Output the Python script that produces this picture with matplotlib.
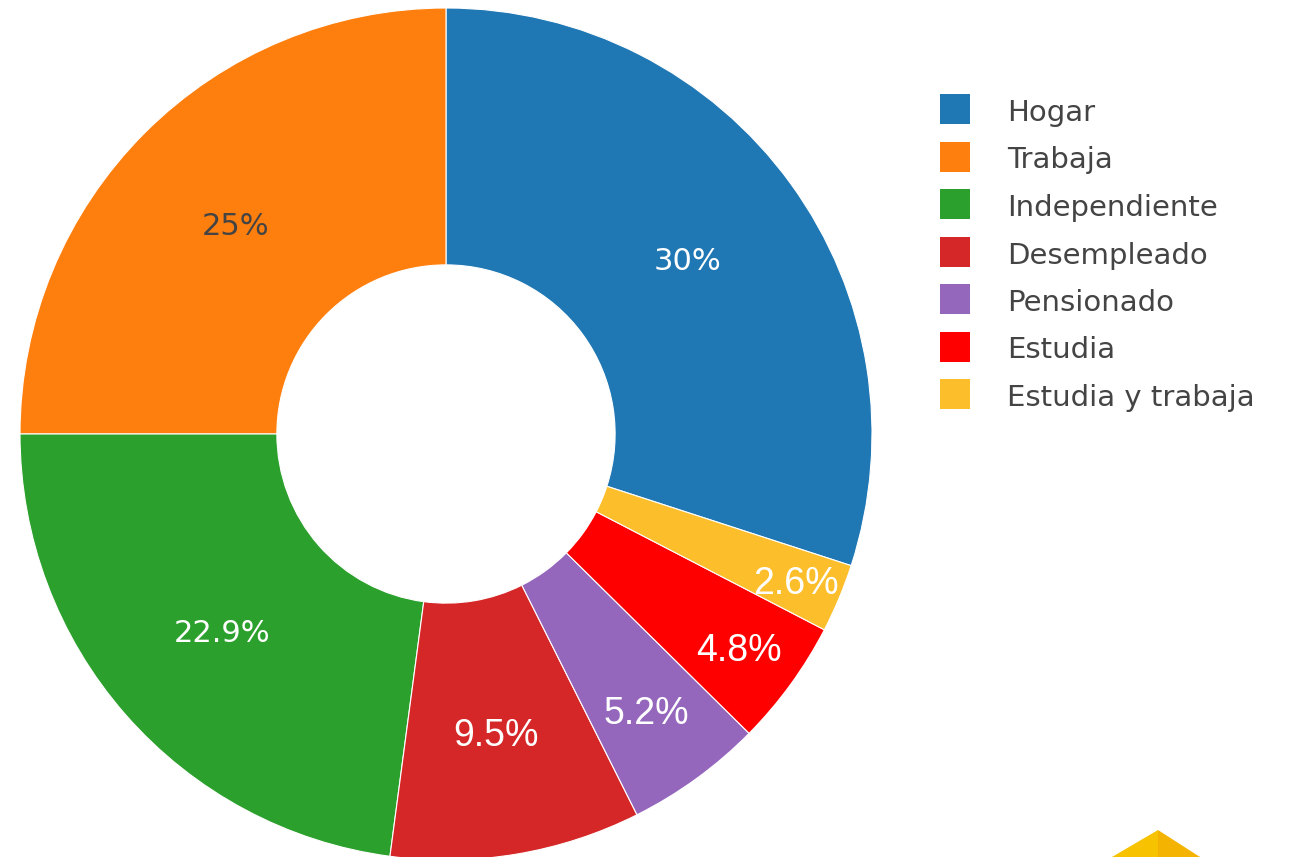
import matplotlib
matplotlib.use("Agg")
import matplotlib.pyplot as plt
from matplotlib.patches import Rectangle, Polygon
import numpy as np

labels = ["Hogar", "Trabaja", "Independiente", "Desempleado", "Pensionado", "Estudia", "Estudia y trabaja"]
values = [30, 25, 22.9, 9.5, 5.2, 4.8, 2.6]
pct_text = ["30%", "25%", "22.9%", "9.5%", "5.2%", "4.8%", "2.6%"]
colors = ["#1f77b4", "#ff7f0e", "#2ca02c", "#d62728", "#9467bd", "#ff0000", "#fdbe2b"]

W, H = 1291, 857
fig = plt.figure(figsize=(W / 100, H / 100), dpi=100)
fig.patch.set_facecolor("white")

cx, cy, R = 446, 434, 426
ax = fig.add_axes([(cx - R) / W, (H - cy - R) / H, 2 * R / W, 2 * R / H])
ax.axis("off")

wedges, texts = ax.pie(values, colors=colors, startangle=-18, counterclock=True,
                       radius=1.0, wedgeprops=dict(width=0.603, edgecolor="white", linewidth=0.8),
                       labels=None)
ax.set_xlim(-1, 1)
ax.set_ylim(-1, 1)
ax.set_aspect("equal")

# label radial positions (fraction of radius) and styling
rad = [0.70, 0.70, 0.70, 0.71, 0.80, 0.85, 0.89]
big = [True, True, True, False, False, False, False]
for w, t, r, b in zip(wedges, pct_text, rad, big):
    mid = np.deg2rad((w.theta1 + w.theta2) / 2)
    x, y = r * np.cos(mid), r * np.sin(mid)
    if b:
        col = "#444444" if t == "25%" else "white"
        ax.text(x, y, t, ha="center", va="center_baseline", fontsize=22, color=col, family="DejaVu Sans")
    else:
        ax.text(x, y, t, ha="center", va="center_baseline", fontsize=27, color="white", family="Liberation Sans")

# legend
y0, dy = 109, 47.5
for i, (lab, col) in enumerate(zip(labels, colors)):
    yc = y0 + i * dy
    fig.add_artist(Rectangle((940 / W, 1 - (yc + 15) / H), 30 / W, 30 / H,
                             transform=fig.transFigure, facecolor=col, edgecolor="none"))
    fig.text(1007 / W, 1 - (yc + 12) / H, lab, ha="left", va="baseline",
             fontsize=21, color="#444444", family="DejaVu Sans")

# decorative logo corner
fig.add_artist(Polygon([(1158 / W, 1 - 830 / H), (1112 / W, 0), (1158 / W, 0)],
                       closed=True, transform=fig.transFigure, facecolor="#f7c200", edgecolor="none"))
fig.add_artist(Polygon([(1158 / W, 1 - 830 / H), (1200 / W, 0), (1158 / W, 0)],
                       closed=True, transform=fig.transFigure, facecolor="#f3b300", edgecolor="none"))

fig.savefig("out.png", dpi=100, facecolor="white")
